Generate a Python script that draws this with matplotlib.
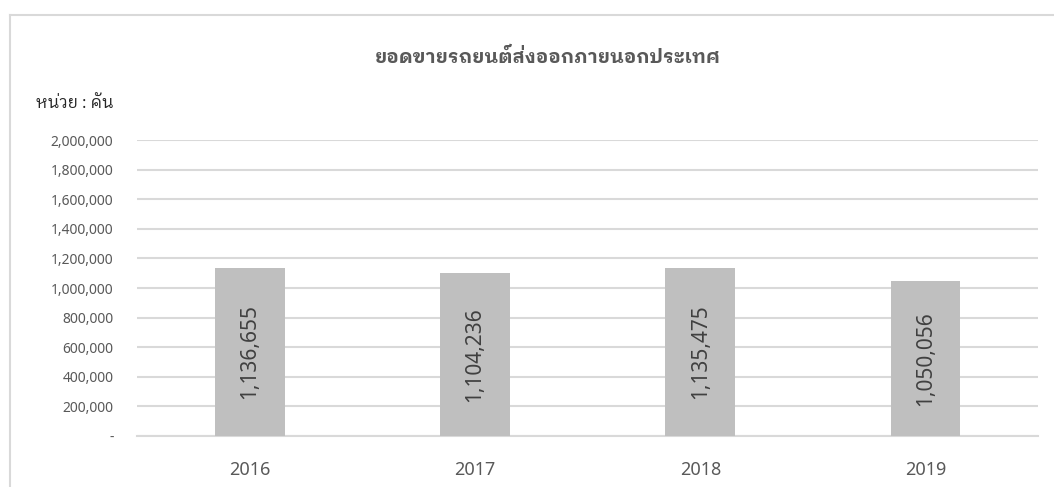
import matplotlib
matplotlib.use("Agg")
import matplotlib.pyplot as plt
from matplotlib.lines import Line2D
from matplotlib.ticker import FuncFormatter
import numpy as np

plt.rcParams['font.family'] = ['Noto Sans', 'IBM Plex Sans Thai Looped']
thai_fonts = ['IBM Plex Sans Thai Looped', 'Noto Sans']

# --- Data ---
years = ['2016', '2017', '2018', '2019']
exports = [1136655, 1104236, 1135475, 1050056]

title = 'ยอดขายรถยนต์ส่งออกภายนอกประเทศ'
unit_label = 'หน่วย : คัน'

grid_color = '#d9d9d9'
bar_color = '#bfbfbf'

# --- Figure ---
fig = plt.figure(figsize=(10.54, 4.87), dpi=100)
ax = fig.add_axes([0.130, 0.1047, 0.855, 0.6078])

x = np.arange(len(years))
ax.bar(x, exports, width=0.31, color=bar_color, zorder=3)

for xi, v in zip(x, exports):
    ax.text(xi, v / 2, f'{v:,}', rotation=90, ha='center', va='center',
            fontsize=15, color='#404040', zorder=4)

ax.set_xlim(-0.5, len(years) - 0.5)
ax.set_ylim(0, 2000000)
ax.set_yticks(np.arange(0, 2000001, 200000))
ax.yaxis.set_major_formatter(FuncFormatter(lambda v, p: '-' if v == 0 else f'{int(v):,}'))
ax.set_xticks(x)
ax.set_xticklabels(years)

ax.grid(axis='y', color=grid_color, linewidth=1.5, zorder=0)
ax.tick_params(axis='y', length=0, pad=17, labelsize=10, labelcolor='#595959')
ax.tick_params(axis='x', length=0, pad=18, labelsize=13, labelcolor='#595959')
for s in ['top', 'right', 'left']:
    ax.spines[s].set_visible(False)
ax.spines['bottom'].set_color(grid_color)
ax.spines['bottom'].set_linewidth(1.5)

fig.text(0.52, 0.883, title, ha='center', va='center', fontsize=13.8,
         fontweight='bold', color='#595959', family=thai_fonts)
fig.text(0.034, 0.788, unit_label, ha='left', va='center', fontsize=12,
         color='#262626', family=thai_fonts)

# chart area border
fig.add_artist(Line2D([0.0095, 0.0095], [0.0, 0.969], color=grid_color, linewidth=1.5))
fig.add_artist(Line2D([0.0095, 1.0], [0.969, 0.969], color=grid_color, linewidth=1.5))

fig.savefig('out.png', dpi=100)
